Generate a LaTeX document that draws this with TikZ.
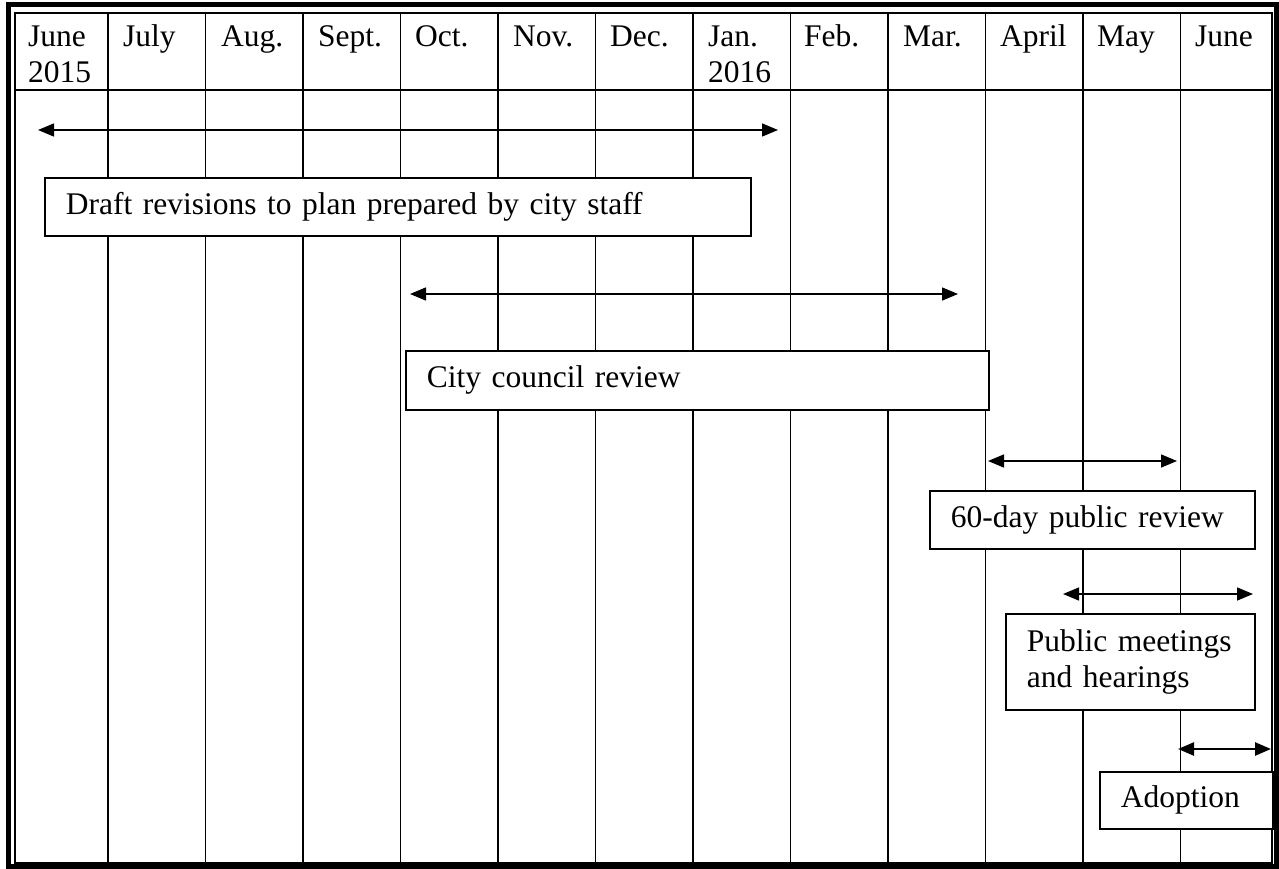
\documentclass[tikz,border=0pt]{standalone}
\usepackage{fontspec}
\setmainfont{Liberation Serif}
\usepackage{tikz}
\usetikzlibrary{positioning,arrows.meta}

\begin{document}
\begin{tikzpicture}[x=1pt, y=-1pt,
  grid/.style={line width=1.8pt},
  month/.style={anchor=base west, inner sep=0pt, align=left, font=\fontsize{31.5}{36}\selectfont},
  box/.style={rectangle, draw, fill=white, line width=1.8pt, anchor=north west,
              inner xsep=21pt, inner ysep=0pt, align=left, font=\fontsize{31.5}{36}\selectfont},
  span/.style={{Triangle[length=16pt,width=13pt]}-{Triangle[length=16pt,width=13pt]}, line width=1.5pt}
]
\useasboundingbox (0,0) rectangle (1279,869);
\draw[line width=5pt] (8,5) rectangle (1276,866);
\draw[grid] (15,13) rectangle (1272,863);
\draw[grid] (15,90) -- (1272,90);

\draw[grid] (108,13) -- (108,863);
\draw[grid] (205.5,13) -- (205.5,863);
\draw[grid] (303,13) -- (303,863);
\draw[grid] (400.5,13) -- (400.5,863);
\draw[grid] (498,13) -- (498,863);
\draw[grid] (595.5,13) -- (595.5,863);
\draw[grid] (693,13) -- (693,863);
\draw[grid] (790.5,13) -- (790.5,863);
\draw[grid] (888,13) -- (888,863);
\draw[grid] (985.5,13) -- (985.5,863);
\draw[grid] (1083,13) -- (1083,863);
\draw[grid] (1180.5,13) -- (1180.5,863);

\node[month] (jun15) at (28,83) {June\\2015};
\node[month] (jul) at (123,47) {July};
\node[month] (aug) at (221,47) {Aug.};
\node[month] (sep) at (318,47) {Sept.};
\node[month] (oct) at (415,47) {Oct.};
\node[month] (nov) at (513,47) {Nov.};
\node[month] (dec) at (610,47) {Dec.};
\node[month] (jan16) at (708,83) {Jan.\\2016};
\node[month] (feb) at (804,47) {Feb.};
\node[month] (mar) at (903,47) {Mar.};
\node[month] (apr) at (1000,47) {April};
\node[month] (may) at (1097,47) {May};
\node[month] (jun16) at (1195,47) {June};

\coordinate (draftL) at (38,130);
\coordinate (draftR) at (778,130);
\coordinate (councilL) at (410,294);
\coordinate (councilR) at (958,294);
\coordinate (pubrevL) at (988,461);
\coordinate (pubrevR) at (1177,461);
\coordinate (meetL) at (1063,594);
\coordinate (meetR) at (1253,594);
\coordinate (adoptL) at (1178,749);
\coordinate (adoptR) at (1271,749);

\draw[span] (draftL) -- (draftR);
\draw[span] (councilL) -- (councilR);
\draw[span] (pubrevL) -- (pubrevR);
\draw[span] (meetL) -- (meetR);
\draw[span, line width=2.5pt] (adoptL) -- (adoptR);

\node[box, text width=664pt, minimum height=58pt] (draft) at (44,177) {Draft revisions to plan prepared by city staff};
\node[box, text width=541pt, minimum height=59pt] (council) at (405,350) {City council review};
\node[box, text width=283pt, minimum height=58pt] (pubrev) at (929,490) {60-day public review};
\node[box, text width=207pt, minimum height=96pt] (meet) at (1005,613) {Public meetings\\and hearings};
\node[box, text width=131pt, minimum height=57pt] (adopt) at (1099,771) {Adoption};
\end{tikzpicture}
\end{document}
